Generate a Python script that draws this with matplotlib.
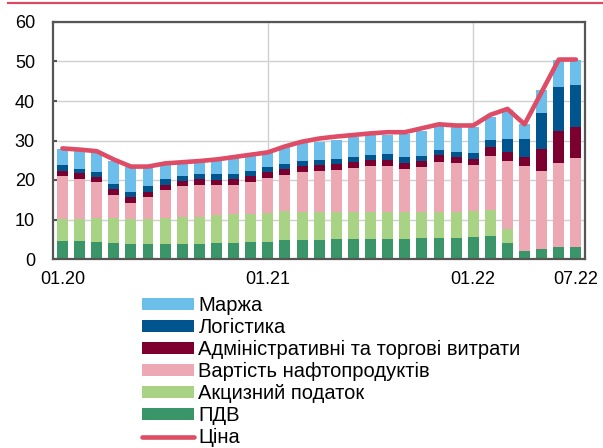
import numpy as np
import matplotlib
matplotlib.use('Agg')
from matplotlib import pyplot as plt

plt.rcParams['font.family'] = ['Liberation Sans', 'DejaVu Sans']

# months 01.20 .. 07.22
months = ['01.20', '02.20', '03.20', '04.20', '05.20', '06.20', '07.20', '08.20', '09.20', '10.20', '11.20', '12.20',
          '01.21', '02.21', '03.21', '04.21', '05.21', '06.21', '07.21', '08.21', '09.21', '10.21', '11.21', '12.21',
          '01.22', '02.22', '03.22', '04.22', '05.22', '06.22', '07.22']
tick_labels = ['01.20', '01.21', '01.22', '07.22']

pdv     = [4.5, 4.5, 4.3, 4.0, 3.7, 3.7, 3.9, 3.9, 3.9, 4.0, 4.1, 4.2, 4.4, 4.7, 4.8, 4.8,
           5.0, 5.1, 5.1, 5.1, 5.1, 5.3, 5.4, 5.4, 5.5, 5.8, 4.1, 2.0, 2.6, 3.1, 3.1]
excise  = [5.7, 5.6, 6.1, 6.4, 6.3, 6.4, 6.5, 6.7, 6.8, 7.1, 7.2, 7.3, 7.3, 7.4, 7.2, 7.2,
           7.0, 6.9, 6.9, 6.9, 6.9, 6.5, 6.6, 6.6, 6.6, 6.6, 3.4, 0.0, 0.0, 0.0, 0.0]
cost    = [10.8, 10.2, 9.0, 5.8, 4.3, 5.7, 7.0, 7.8, 8.0, 7.6, 7.4, 8.1, 8.7, 9.2, 9.9, 10.4,
           10.5, 11.0, 11.6, 11.6, 10.9, 11.6, 12.6, 12.2, 11.6, 13.8, 17.4, 21.6, 19.8, 21.1, 22.5]
admin   = [1.4, 1.4, 1.3, 1.4, 1.5, 1.2, 1.3, 1.3, 1.5, 1.3, 1.5, 1.4, 1.5, 1.4, 1.7, 1.5,
           1.6, 1.5, 1.5, 1.5, 1.5, 1.5, 1.7, 1.6, 1.6, 2.1, 2.3, 2.3, 5.4, 8.3, 7.9]
logist  = [1.3, 1.2, 1.3, 1.3, 1.2, 1.4, 1.5, 1.4, 1.3, 1.4, 1.4, 1.4, 1.3, 1.4, 1.2, 1.2,
           1.2, 1.4, 1.2, 1.4, 1.3, 1.3, 1.3, 1.3, 1.5, 1.8, 3.2, 4.5, 9.1, 11.1, 10.6]
margin  = [4.2, 4.5, 4.9, 5.9, 6.4, 5.0, 4.0, 3.5, 3.1, 3.5, 3.9, 3.7, 3.7, 4.3, 4.5, 4.6,
           4.8, 4.9, 5.1, 4.9, 5.9, 6.3, 6.1, 6.2, 6.5, 5.9, 7.3, 3.7, 5.9, 6.9, 6.4]
price   = [28.0, 27.7, 27.3, 25.2, 23.4, 23.4, 24.2, 24.5, 24.8, 25.2, 25.8, 26.4, 27.0, 28.5, 29.7, 30.5,
           31.0, 31.4, 31.8, 32.1, 32.1, 33.1, 34.1, 33.8, 33.8, 36.5, 38.0, 34.1, 42.3, 50.5, 50.5]

names  = ['ПДВ', 'Акцизний податок', 'Вартість нафтопродуктів', 'Адміністративні та торгові витрати', 'Логістика', 'Маржа']
colors = ['#3a9669', '#a9d384', '#eda9b3', '#7b0030', '#00558f', '#6bbfea']
line_color = '#de4c66'

fig = plt.figure(figsize=(6.03, 4.48), dpi=100)
ax = fig.add_axes([53/603, 1-259/448, (585-53)/603, (259-22)/448])

x = np.arange(len(months))
bottom = np.zeros(len(months))
bars = []
for vals, name, c in zip([pdv, excise, cost, admin, logist, margin], names, colors):
    b = ax.bar(x, vals, 0.64, bottom=bottom, color=c, label=name, zorder=2)
    bars.append(b)
    bottom += np.array(vals)
ln, = ax.plot(x, price, color=line_color, lw=3.3, solid_capstyle='round', zorder=3, label='Ціна')

ax.set_ylim(0, 60)
ax.set_xlim(-0.55, len(months) - 0.47)
ax.set_yticks(np.arange(0, 61, 10))
tick_pos = [months.index(t) for t in tick_labels]
ax.set_xticks(tick_pos)
ax.set_xticklabels(tick_labels)
ax.yaxis.grid(True, color='#d0d0d0', lw=1, zorder=0)
for p in tick_pos[1:3]:
    ax.axvline(p, color='#d0d0d0', lw=1, zorder=0)
for s in ax.spines.values():
    s.set_color('#555555')
    s.set_linewidth(1.6)
ax.tick_params(axis='y', direction='in', length=3, width=1.5, color='#555555', pad=13, labelsize=13)
ax.tick_params(axis='x', direction='in', length=3, width=1.5, color='#555555', pad=9, labelsize=13)

# red rule on top
fig.add_artist(plt.Line2D([8/603, 1], [1-3.5/448, 1-3.5/448], color='#d94a63', lw=1.6))

handles = bars[::-1] + [ln]
fig.legend(handles, [h.get_label() for h in handles], loc='upper left',
           bbox_to_anchor=(142/603, 1-296/448), frameon=False, fontsize=14.5,
           handlelength=2.6, handleheight=0.55, handletextpad=0.2, labelspacing=0.15,
           borderpad=0, borderaxespad=0)

plt.savefig('out.png', dpi=100)
